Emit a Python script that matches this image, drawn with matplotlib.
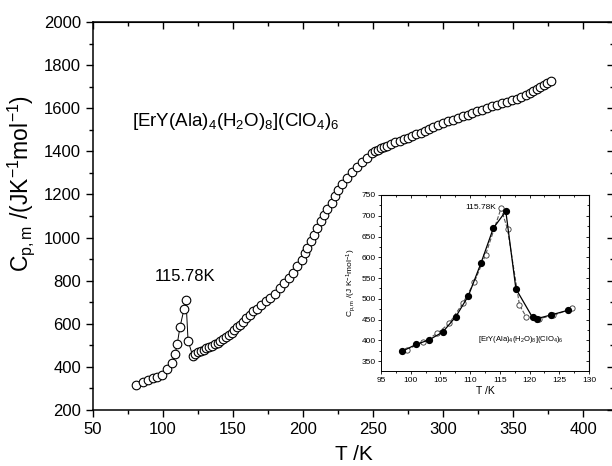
import matplotlib
matplotlib.use("Agg")
import matplotlib.pyplot as plt
from matplotlib.ticker import MultipleLocator

plt.rcParams['font.family'] = ['Liberation Sans', 'DejaVu Sans']
plt.rcParams['mathtext.fontset'] = 'custom'
plt.rcParams['mathtext.rm'] = 'Liberation Sans'
plt.rcParams['mathtext.it'] = 'Liberation Sans:italic'
plt.rcParams['mathtext.default'] = 'regular'

# ---- main data ----
T_main = [80.5, 86.0, 89.5, 93.1, 95.9, 99.0, 102.6, 106.2, 108.6, 110.2, 112.1, 115.0, 116.4, 117.9,
          121.2, 123.0, 125.0, 127.0, 129.0, 131.0, 133.0, 135.0, 137.0, 139.0, 141.0, 143.0, 145.0,
          147.0, 149.0, 151.0, 153.0, 155.0, 157.0, 159.5, 162.0, 164.5, 167.0, 170.0, 173.5, 176.5,
          180.0, 183.6, 186.7, 190.2, 193.1, 195.9, 199.1, 201.4, 203.1, 205.5, 207.9, 210.2, 212.6,
          215.0, 217.4, 220.5, 222.9, 225.2, 228.1, 231.2, 234.8, 238.4, 241.9, 245.5, 249.0, 251.5,
          253.5, 255.5, 257.5, 260.0, 263.0, 266.0, 269.0, 272.0, 275.0, 278.0, 281.0, 284.0, 287.0,
          290.0, 293.0, 296.5, 300.0, 303.5, 307.0, 310.5, 314.0, 317.5, 321.0, 324.5, 328.0, 331.5,
          335.0, 338.5, 342.0, 345.5, 349.0, 352.5, 356.0, 359.0, 362.0, 364.5, 367.0, 369.5, 372.0,
          374.5, 377.0]
Cp_main = [316, 331, 339, 347, 355, 363, 389, 420, 460, 507, 584, 668, 711, 522,
           451, 461, 467, 474, 480, 486, 491, 497, 505, 513, 522, 531, 538,
           547, 557, 570, 583, 596, 609, 625, 642, 657, 670, 687, 705, 720,
           740, 765, 788, 812, 835, 866, 897, 928, 951, 982, 1013, 1044, 1075,
           1103, 1132, 1160, 1191, 1222, 1250, 1276, 1302, 1327, 1349, 1369, 1390, 1400,
           1408, 1414, 1419, 1425, 1433, 1441, 1449, 1456, 1464, 1471, 1479, 1487, 1495,
           1502, 1512, 1522, 1531, 1540, 1547, 1555, 1562, 1570, 1578, 1585, 1592, 1600,
           1608, 1616, 1623, 1631, 1638, 1645, 1653, 1660, 1670, 1678, 1688, 1698, 1708,
           1718, 1728]

# ---- inset data ----
T_filled = [98.5, 100.9, 103.1, 105.4, 107.6, 109.7, 111.8, 113.9, 116.0, 117.7, 120.5, 121.2, 123.6, 126.4]
Cp_filled = [373, 390, 401, 420, 457, 507, 585, 670, 711, 524, 455, 452, 461, 472]
T_open = [99.3, 102.1, 104.5, 106.5, 108.8, 110.7, 112.6, 115.2, 116.3, 118.3, 119.4, 121.6, 124.0, 127.2]
Cp_open = [377, 396, 417, 441, 490, 540, 606, 718, 667, 485, 457, 452, 460, 477]

W, H = 612, 466
fig = plt.figure(figsize=(W / 100, H / 100), dpi=100)

# main axes
x0, x1, y0, y1 = 93, 614, 22, 410
ax = fig.add_axes([x0 / W, 1 - y1 / H, (x1 - x0) / W, (y1 - y0) / H])
ax.plot(T_main, Cp_main, '-', color='black', lw=0.7, marker='o', ms=6.2,
        mfc='white', mec='black', mew=0.8)
ax.set_xlim(50, 50 + (x1 - x0) / 1.4)
ax.set_ylim(200, 2000)
ax.xaxis.set_major_locator(MultipleLocator(50))
ax.xaxis.set_minor_locator(MultipleLocator(25))
ax.yaxis.set_major_locator(MultipleLocator(200))
ax.yaxis.set_minor_locator(MultipleLocator(100))
ax.tick_params(which='both', direction='out', top=False, right=False, labelsize=12, width=1.0)
ax.tick_params(which='major', length=5)
ax.tick_params(which='minor', length=3)
for s in ax.spines.values():
    s.set_linewidth(1.1)

secx = ax.secondary_xaxis('top')
secx.xaxis.set_major_locator(MultipleLocator(50))
secx.xaxis.set_minor_locator(MultipleLocator(25))
secx.tick_params(which='both', direction='in', labeltop=False, width=1.0)
secx.tick_params(which='major', length=5)
secx.tick_params(which='minor', length=3)
secy = ax.secondary_yaxis('right')
secy.yaxis.set_major_locator(MultipleLocator(200))
secy.yaxis.set_minor_locator(MultipleLocator(100))
secy.tick_params(which='both', direction='in', labelright=False, width=1.0)
secy.tick_params(which='major', length=5)
secy.tick_params(which='minor', length=3)

ax.set_xlabel('T /K', fontsize=15, labelpad=6)
ax.set_ylabel('C$_{p,m}$ /(JK$^{-1}$mol$^{-1}$)', fontsize=16.5)
ax.yaxis.set_label_coords(-0.108, 0.585)

ax.text(77.9, 1538, '[ErY(Ala)$_4$(H$_2$O)$_8$](ClO$_4$)$_6$', fontsize=13.5, ha='left', va='center')
ax.text(115.7, 818, '115.78K', fontsize=12, ha='center', va='center')

# inset axes
ix0, ix1, iy0, iy1 = 381, 589, 195, 371
ins = fig.add_axes([ix0 / W, 1 - iy1 / H, (ix1 - ix0) / W, (iy1 - iy0) / H])
ins.plot(T_open, Cp_open, '--', color='#555555', lw=0.8, marker='o', ms=3.8,
         mfc='white', mec='#333333', mew=0.6, zorder=2)
ins.plot(T_filled, Cp_filled, '-', color='black', lw=0.9, marker='o', ms=4.2,
         mfc='black', mec='black', zorder=3)
ins.set_xlim(95, 130)
ins.set_ylim(326, 750)
ins.xaxis.set_major_locator(MultipleLocator(5))
ins.xaxis.set_minor_locator(MultipleLocator(2.5))
ins.yaxis.set_major_locator(MultipleLocator(50))
ins.yaxis.set_minor_locator(MultipleLocator(25))
ins.tick_params(which='both', direction='out', labelsize=6, width=0.6, pad=1.5)
ins.tick_params(which='major', length=2.5)
ins.tick_params(which='minor', length=1.5)
for lab in ins.get_xticklabels() + ins.get_yticklabels():
    lab.set_family(['Liberation Sans Narrow', 'Liberation Sans'])
for s in ins.spines.values():
    s.set_linewidth(0.7)
isx = ins.secondary_xaxis('top')
isx.xaxis.set_major_locator(MultipleLocator(5))
isx.xaxis.set_minor_locator(MultipleLocator(2.5))
isx.tick_params(which='both', direction='in', labeltop=False, width=0.6)
isx.tick_params(which='major', length=2.5)
isx.tick_params(which='minor', length=1.5)
isy = ins.secondary_yaxis('right')
isy.yaxis.set_major_locator(MultipleLocator(50))
isy.yaxis.set_minor_locator(MultipleLocator(25))
isy.tick_params(which='both', direction='in', labelright=False, width=0.6)
isy.tick_params(which='major', length=2.5)
isy.tick_params(which='minor', length=1.5)

ins.set_xlabel('T /K', fontsize=7.5, labelpad=2)
ins.set_ylabel('C$_{p,m}$ /(J K$^{-1}$mol$^{-1}$)', fontsize=6, labelpad=2)
ins.text(111.3, 401, '[ErY(Ala)$_4$(H$_2$O)$_8$](ClO$_4$)$_6$', fontsize=5.5, ha='left', va='center',
         family=['Liberation Sans Narrow', 'Liberation Sans'])
ins.text(114.3, 719, '115.78K', fontsize=6, ha='right', va='center',
         family=['Liberation Sans Narrow', 'Liberation Sans'])

fig.savefig('out.png', dpi=100)
